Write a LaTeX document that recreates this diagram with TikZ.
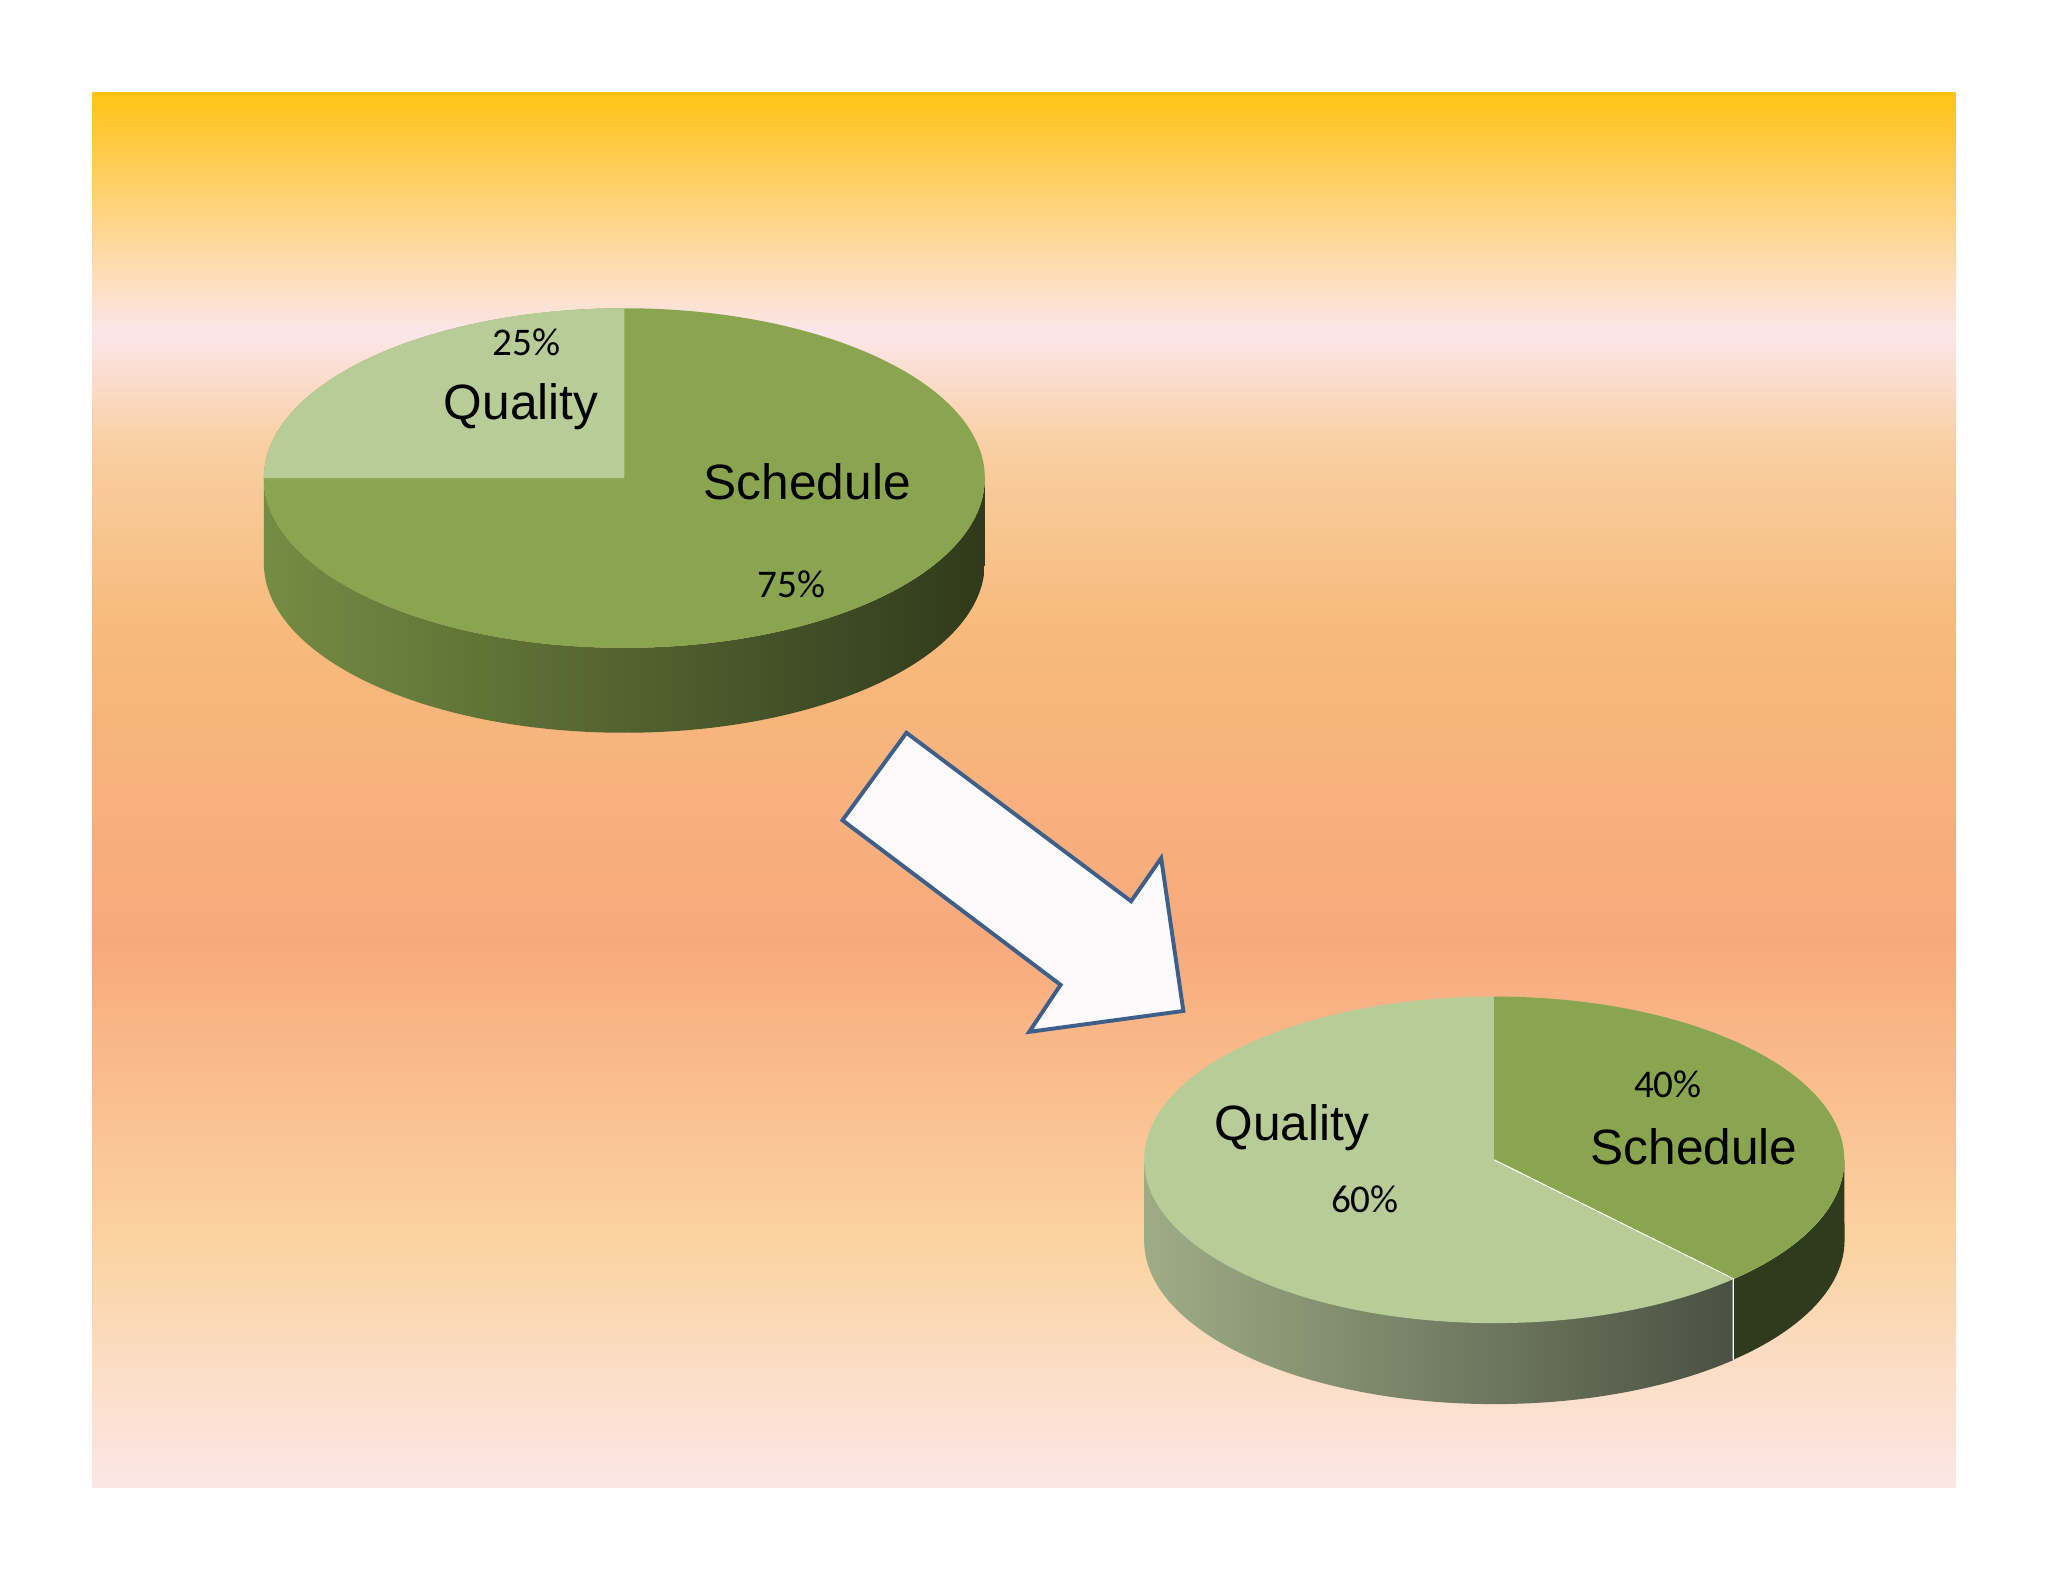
\documentclass[tikz,border=0pt]{standalone}
\usepackage{fontspec}
\setmainfont{Liberation Sans}
\newfontfamily\pctfont{Carlito}
\definecolor{bA}{HTML}{FFC414}
\definecolor{bB}{HTML}{FED37E}
\definecolor{bC}{HTML}{FCE6EA}
\definecolor{bD}{HTML}{F9CFA2}
\definecolor{bE}{HTML}{F7BA7C}
\definecolor{bF}{HTML}{F8A97C}
\definecolor{bG}{HTML}{FBD3A1}
\definecolor{bH}{HTML}{FCE6E6}
\definecolor{sched}{HTML}{8AA54F}
\definecolor{qual}{HTML}{B8CC97}
\definecolor{arrowline}{HTML}{3E5F8A}
\tikzset{
  band/.style={shading=axis},
  pct/.style={font=\pctfont\fontsize{15}{18}\selectfont},
  lbl/.style={font=\fontsize{19}{22}\selectfont}
}
\begin{document}
\begin{tikzpicture}[x=0.5pt,y=0.5pt]
\useasboundingbox (0,0) rectangle (1568,-1211);
\fill[white] (0,0) rectangle (1568,-1211);
% background bands
\shade[top color=bA,bottom color=bB] (71,-71) rectangle (1497,-160);
\shade[top color=bB,bottom color=bC] (71,-159.5) rectangle (1497,-255);
\shade[top color=bC,bottom color=bD] (71,-254.5) rectangle (1497,-340);
\shade[top color=bD,bottom color=bE] (71,-339.5) rectangle (1497,-480);
\shade[top color=bE,bottom color=bF] (71,-479.5) rectangle (1497,-720);
\shade[top color=bF,bottom color=bG] (71,-719.5) rectangle (1497,-950);
\shade[top color=bG,bottom color=bH] (71,-949.5) rectangle (1497,-1139);
% pie 1
\shade[left color=sched!85!black,right color=sched!35!black]
  (202,-366) -- (202,-431) arc[start angle=180,end angle=360,x radius=276,y radius=130]
  -- (754,-366) arc[start angle=0,end angle=-180,x radius=276,y radius=130] -- cycle;
\fill[sched] (478,-366) ellipse[x radius=276,y radius=130];
\fill[qual] (478,-366) -- (478,-236) arc[start angle=90,end angle=180,x radius=276,y radius=130] -- cycle;
\node[pct] (p25) at (403,-262) {25\%};
\node[lbl] (q1) at (399,-311) {Quality};
\node[lbl] (s1) at (618,-369) {Schedule};
\node[pct] (p75) at (606,-447) {75\%};
% arrow
\draw[arrowline,line width=1.5pt,fill={rgb,255:red,252;green,250;blue,250},line join=miter]
  (694,-561) -- (866,-690) -- (889,-657) -- (906,-774) -- (788,-790) -- (812,-754) -- (645,-628) -- cycle;
% pie 2
\shade[left color=qual!80!black!90,right color=qual!30!black!90]
  (876,-888) -- (876,-950) arc[start angle=180,end angle=313,x radius=268,y radius=125]
  -- (1327,-979) arc[start angle=-47,end angle=-180,x radius=268,y radius=125] -- cycle;
\fill[sched!35!black]
  (1327,-979) -- (1327,-1041) arc[start angle=-47,end angle=0,x radius=268,y radius=125]
  -- (1412,-888) arc[start angle=0,end angle=-47,x radius=268,y radius=125] -- cycle;
\fill[qual] (1144,-888) ellipse[x radius=268,y radius=125];
\fill[sched] (1144,-888) -- (1144,-763) arc[start angle=90,end angle=-47,x radius=268,y radius=125] -- cycle;
\draw[white,line width=0.4pt] (1144,-888) -- (1327,-979) -- (1327,-1041);
\node[pct] (p40) at (1277,-830) {40\%};
\node[lbl] (s2) at (1297,-878) {Schedule};
\node[lbl] (q2) at (989,-863) {Quality};
\node[pct] (p60) at (1045,-918) {60\%};
\end{tikzpicture}
\end{document}
